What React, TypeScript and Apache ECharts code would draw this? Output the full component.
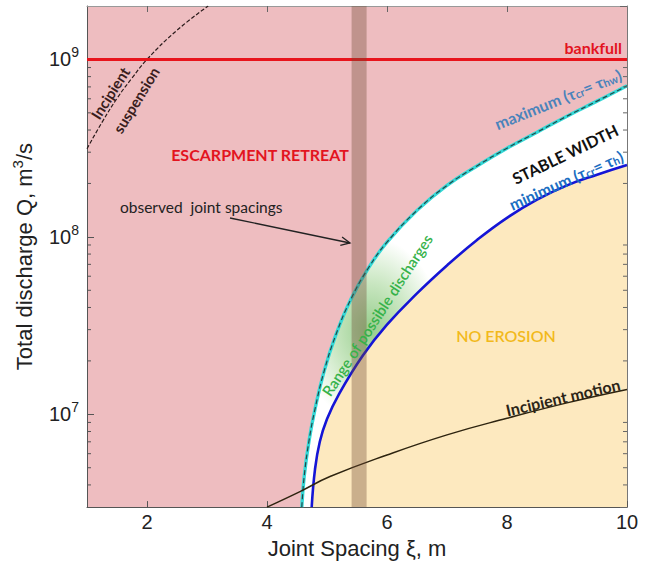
import { useEffect, useRef } from 'react';
import * as echarts from 'echarts';

// ---- axes ----
const X_MIN = 1;
const X_MAX = 10;
const Y_MIN = 3e6;
const Y_MAX = 2e9;
const X_TICKS = [2, 4, 6, 8, 10];
const X_TOP_TICKS = [2, 4, 6, 8];
const Y_MINOR_TICKS = [
  4e6, 5e6, 6e6, 7e6, 8e6, 9e6,
  2e7, 3e7, 4e7, 5e7, 6e7, 7e7, 8e7, 9e7,
  2e8, 3e8, 4e8, 5e8, 6e8, 7e8, 8e8, 9e8,
];

// ---- data ----
const BANKFULL_Q = 1e9;
const OBSERVED_SPACING = [5.41, 5.66];

const maxX = [4.58, 4.62, 4.7, 4.8, 4.95, 5.15, 5.4, 5.7, 6.0, 6.5, 7.0, 7.5, 8.0, 8.5, 9.0, 9.5, 10.0];
const maxQ = [3.0e6, 4.47e6, 7.08e6, 1.07e7, 1.74e7, 2.82e7, 4.47e7, 6.76e7, 9.33e7, 1.41e8, 1.95e8, 2.51e8, 3.16e8, 3.89e8, 4.79e8, 5.82e8, 7.1e8];

const minX = [4.745, 4.8, 4.88, 5.0, 5.2, 5.6, 6.0, 6.5, 7.0, 7.5, 8.0, 8.5, 9.0, 9.5, 10.0];
const minQ = [3.0e6, 4.9e6, 7.0e6, 9.4e6, 1.3e7, 2.15e7, 3.2e7, 4.8e7, 6.9e7, 9.6e7, 1.28e8, 1.62e8, 1.95e8, 2.24e8, 2.54e8];

const motionX = [4.0, 4.55, 5.05, 6.0, 7.0, 8.0, 9.0, 10.0];
const motionQ = [3.0e6, 3.67e6, 4.46e6, 5.9e6, 7.66e6, 9.5e6, 1.16e7, 1.38e7];

const suspX = [1.0, 1.25, 1.5, 1.75, 2.0, 2.5, 3.02];
const suspQ = [3.14e8, 4.42e8, 6.03e8, 7.85e8, 1.0e9, 1.46e9, 2.0e9];

const pairs = (xs: number[], ys: number[]) => xs.map((x, i) => [x, ys[i]]);

const FONT_AX = 'Liberation Sans, Arial, sans-serif';
const FONT_AN = 'Lato, Open Sans, sans-serif';
const SMOOTH = 0.45;

export default function App() {
  const ref = useRef<HTMLDivElement>(null);

  useEffect(() => {
    document.body.style.margin = '0';
    if (!ref.current) return;
    const chart = echarts.init(ref.current, undefined, { renderer: 'svg' });

    const gridL = 87, gridR = 25, gridT = 6, gridB = 51;

    // arrow geometry (layout only)
    const a0 = [230, 218];
    const a1 = [350, 243];
    const ang = Math.atan2(a1[1] - a0[1], a1[0] - a0[0]);
    const hl = 10, ha = 0.45;
    const head = [
      [a1[0] - hl * Math.cos(ang - ha), a1[1] - hl * Math.sin(ang - ha)],
      [a1[0], a1[1]],
      [a1[0] - hl * Math.cos(ang + ha), a1[1] - hl * Math.sin(ang + ha)],
    ];

    const deg = (d: number) => (d * Math.PI) / 180;
    const subStyle = (color: string) => ({
      fontSize: 11, fontFamily: FONT_AN, fontWeight: 'bold', fill: color, color,
      verticalAlign: 'bottom', lineHeight: 11,
    });

    const yLabelFmt = (v: number) => {
      const e = Math.round(Math.log10(v));
      if (Math.abs(Math.log10(v) - e) > 1e-6) return '';
      return `{b|10}{s|${e}}`;
    };

    const center = { align: 'center', verticalAlign: 'middle', textAlign: 'center', textVerticalAlign: 'middle' };

    const option: any = {
      animation: false,
      grid: {
        left: gridL, right: gridR, top: gridT, bottom: gridB,
        show: true, backgroundColor: '#eebdc0', borderWidth: 0,
      },
      xAxis: [
        {
          type: 'value', min: X_MIN, max: X_MAX, position: 'bottom',
          name: 'Joint Spacing ξ, m', nameLocation: 'middle', nameGap: 25,
          nameTextStyle: { fontSize: 22, fontFamily: FONT_AX, color: '#222' },
          axisLine: { show: true, lineStyle: { color: '#555', width: 1 } },
          axisTick: { show: true, inside: true, length: 6, customValues: X_TICKS, lineStyle: { color: '#555' } },
          axisLabel: { customValues: X_TICKS, fontSize: 20, fontFamily: FONT_AX, color: '#222', margin: 5 },
          splitLine: { show: false },
        },
        {
          type: 'value', min: X_MIN, max: X_MAX, position: 'top',
          axisLine: { show: true, lineStyle: { color: '#999', width: 1 } },
          axisTick: { show: true, inside: true, length: 6, customValues: X_TOP_TICKS, lineStyle: { color: '#666' } },
          axisLabel: { show: false },
          splitLine: { show: false },
        },
      ],
      yAxis: [
        {
          type: 'log', logBase: 10, min: Y_MIN, max: Y_MAX, position: 'left',
          name: 'Total discharge Q, m{sup|3}/s', nameLocation: 'middle', nameGap: 30,
          nameTextStyle: {
            fontSize: 22, fontFamily: FONT_AX, color: '#222', lineHeight: 28,
            rich: { sup: { fontSize: 15, fontFamily: FONT_AX, color: '#222', verticalAlign: 'top', lineHeight: 15 } },
          },
          axisLine: { show: true, lineStyle: { color: '#555', width: 1 } },
          axisTick: { show: true, inside: true, length: 7, lineStyle: { color: '#555' } },
          axisLabel: {
            formatter: yLabelFmt, margin: 8, showMinLabel: false, showMaxLabel: false,
            rich: {
              b: { fontSize: 20, fontFamily: FONT_AX, color: '#222', lineHeight: 28 },
              s: { fontSize: 14, fontFamily: FONT_AX, color: '#222', lineHeight: 14, verticalAlign: 'top' },
            },
          },
          splitLine: { show: false },
          minorTick: { show: false },
        },
        {
          type: 'log', logBase: 10, min: Y_MIN, max: Y_MAX, position: 'right',
          axisLine: { show: true, lineStyle: { color: '#777', width: 1 } },
          axisTick: { show: true, inside: true, length: 7, lineStyle: { color: '#666' } },
          axisLabel: { show: false },
          splitLine: { show: false },
        },
      ],
      series: [
        {
          name: 'stable band', type: 'line', z: 1, smooth: SMOOTH, symbol: 'none',
          data: pairs(maxX, maxQ),
          lineStyle: { width: 0 },
          areaStyle: {
            origin: 'start', opacity: 1,
            color: new echarts.graphic.RadialGradient(0.21, 0.58, 0.22, [
              { offset: 0, color: 'rgb(150,205,140)' },
              { offset: 0.5, color: 'rgb(200,230,192)' },
              { offset: 1, color: '#ffffff' },
            ]),
          },
        },
        {
          name: 'no erosion', type: 'line', z: 1, smooth: SMOOTH, symbol: 'none',
          data: pairs(minX, minQ),
          lineStyle: { width: 0 },
          areaStyle: { origin: 'start', opacity: 1, color: '#fde9bf' },
        },
        {
          name: 'maximum cyan', type: 'line', z: 3, smooth: SMOOTH, symbol: 'none',
          data: pairs(maxX, maxQ),
          lineStyle: { color: '#33d8d6', width: 3.4 },
        },
        {
          name: 'maximum dash', type: 'line', z: 3, smooth: SMOOTH, symbol: 'none',
          data: pairs(maxX, maxQ),
          lineStyle: { color: '#22484a', width: 1.2, type: [5, 3] },
        },
        {
          name: 'minimum', type: 'line', z: 3, smooth: SMOOTH, symbol: 'none',
          data: pairs(minX, minQ),
          lineStyle: { color: '#1515d6', width: 2.6 },
        },
        {
          name: 'incipient motion', type: 'line', z: 3, smooth: SMOOTH, symbol: 'none',
          data: pairs(motionX, motionQ),
          lineStyle: { color: '#2e2410', width: 1.5 },
        },
        {
          name: 'incipient suspension', type: 'line', z: 3, smooth: SMOOTH, symbol: 'none',
          data: pairs(suspX, suspQ),
          lineStyle: { color: '#2a1a1a', width: 1.2, type: [4, 2] },
        },
        {
          name: 'bankfull', type: 'line', z: 3, symbol: 'none',
          data: [[X_MIN, BANKFULL_Q], [X_MAX, BANKFULL_Q]],
          lineStyle: { color: '#e8141c', width: 3 },
        },
        {
          name: 'observed', type: 'custom', z: 4,
          data: [OBSERVED_SPACING],
          encode: { x: [0, 1] },
          renderItem: (_p: any, api: any) => {
            const p0 = api.coord([api.value(0), Y_MAX]);
            const p1 = api.coord([api.value(1), Y_MIN]);
            return {
              type: 'rect',
              shape: { x: p0[0], y: p0[1], width: p1[0] - p0[0], height: p1[1] - p0[1] },
              style: { fill: 'rgba(110,72,50,0.36)' },
            };
          },
        },
        {
          name: 'minor ticks', type: 'custom', z: 5,
          data: Y_MINOR_TICKS.map((v) => [X_MIN, v]),
          encode: { x: 0, y: 1 },
          renderItem: (_p: any, api: any) => {
            const v = api.value(1);
            const pl = api.coord([X_MIN, v]);
            const pr = api.coord([X_MAX, v]);
            return {
              type: 'group',
              children: [
                { type: 'line', shape: { x1: pl[0], y1: pl[1], x2: pl[0] + 4, y2: pl[1] }, style: { stroke: '#555', lineWidth: 1 } },
                { type: 'line', shape: { x1: pr[0] - 4, y1: pr[1], x2: pr[0], y2: pr[1] }, style: { stroke: '#666', lineWidth: 1 } },
              ],
            };
          },
        },
      ],
      graphic: [
        {
          type: 'text', x: 622, y: 47, z: 10,
          style: { text: 'bankfull', fill: '#e3141e', font: `bold 16px ${FONT_AN}`, align: 'right', verticalAlign: 'middle', textAlign: 'right', textVerticalAlign: 'middle' },
        },
        {
          type: 'text', x: 260, y: 154, z: 10,
          style: { text: 'ESCARPMENT RETREAT', fill: '#e3141e', font: `bold 16px ${FONT_AN}`, ...center },
        },
        {
          type: 'text', x: 120, y: 207, z: 10,
          style: { text: 'observed  joint spacings', fill: '#222', font: `15.5px ${FONT_AN}`, align: 'left', verticalAlign: 'middle', textAlign: 'left', textVerticalAlign: 'middle' },
        },
        {
          type: 'line', z: 10,
          shape: { x1: a0[0], y1: a0[1], x2: a1[0], y2: a1[1] },
          style: { stroke: '#222', lineWidth: 1.3 },
        },
        {
          type: 'polyline', z: 10,
          shape: { points: head },
          style: { stroke: '#222', lineWidth: 1.3, fill: 'none' },
        },
        {
          type: 'text', x: 558, y: 99, z: 10, rotation: deg(22),
          style: {
            text: 'maximum (τ{s|cr}= τ{s|hw})', fill: '#4a83bb', font: `bold 16px ${FONT_AN}`, ...center,
            rich: { s: subStyle('#4a83bb') },
          },
        },
        {
          type: 'text', x: 565, y: 154, z: 10, rotation: deg(26),
          style: { text: 'STABLE WIDTH', fill: '#111', font: `bold 16px ${FONT_AN}`, ...center },
        },
        {
          type: 'text', x: 566, y: 180, z: 10, rotation: deg(24),
          style: {
            text: 'minimum (τ{s|cr}= τ{s|h})', fill: '#1b6ec2', font: `bold 16px ${FONT_AN}`, ...center,
            rich: { s: subStyle('#1b6ec2') },
          },
        },
        {
          type: 'text', x: 377, y: 315, z: 10, rotation: deg(57),
          style: { text: 'Range of possible discharges', fill: '#36b24a', font: `600 15px ${FONT_AN}`, ...center },
        },
        {
          type: 'text', x: 506, y: 335, z: 10,
          style: { text: 'NO EROSION', fill: '#f2b91b', font: `600 16px ${FONT_AN}`, ...center },
        },
        {
          type: 'text', x: 563, y: 397, z: 10, rotation: deg(13),
          style: { text: 'Incipient motion', fill: '#2b2417', font: `bold 16px ${FONT_AN}`, ...center },
        },
        {
          type: 'text', x: 110, y: 93, z: 10, rotation: deg(57.5),
          style: { text: 'Incipient', fill: '#3a1d1d', font: `bold 15px ${FONT_AN}`, ...center },
        },
        {
          type: 'text', x: 136, y: 100, z: 10, rotation: deg(58.5),
          style: { text: 'suspension', fill: '#3a1d1d', font: `bold 15px ${FONT_AN}`, ...center },
        },
      ],
    };

    chart.setOption(option);
    return () => chart.dispose();
  }, []);

  return <div ref={ref} style={{ width: 652, height: 564 }} />;
}
